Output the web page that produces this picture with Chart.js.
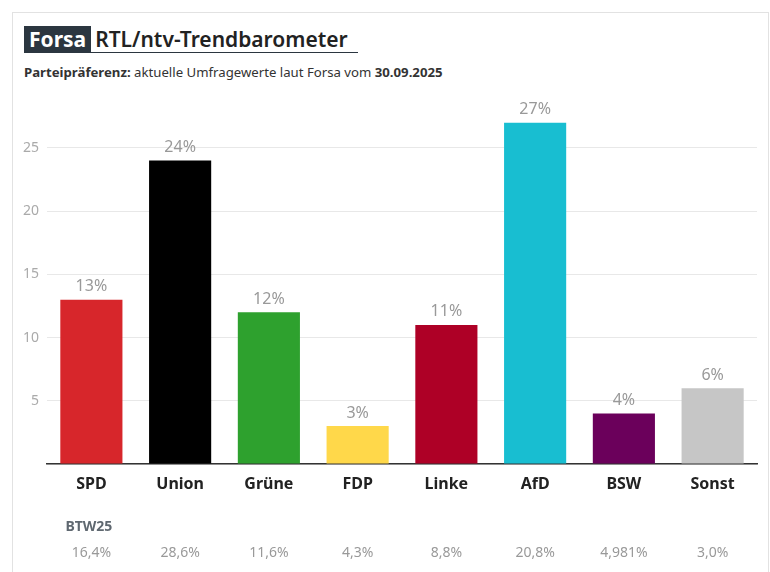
<!DOCTYPE html>
<html>
<head>
<meta charset="utf-8">
<script src="https://cdn.jsdelivr.net/npm/chart.js@4"></script>
<style>
  body { margin: 0; background: #fff; font-family: "Noto Sans", sans-serif; }
  #card { position: absolute; left: 12px; top: 12px; width: 755px; height: 600px; border: 1px solid #e2e2e2; }
  #title { position: absolute; left: 11px; top: 13px; height: 26px; border-bottom: 1.5px solid #2b3640; padding-right: 10px; white-space: nowrap; font-size: 21px; font-weight: 600; color: #222; line-height: 26px; }
  #title .tag { background: #2b3640; color: #fff; padding: 0 5px; margin-right: 4px; display: inline-block; font-weight: 700; }
  #sub { position: absolute; left: 11px; top: 50px; font-size: 13.2px; color: #333; white-space: nowrap; }
  #wrap { position: absolute; left: 0; top: 77px; width: 755px; height: 482px; }
</style>
</head>
<body>
<div id="card">
  <div id="title"><span class="tag">Forsa</span>RTL/ntv-Trendbarometer</div>
  <div id="sub"><b>Parteipräferenz:</b> aktuelle Umfragewerte laut Forsa vom <b>30.09.2025</b></div>
  <div id="wrap"><canvas id="umfrage"></canvas></div>
</div>
<script>
const parteien = ["SPD", "Union", "Grüne", "FDP", "Linke", "AfD", "BSW", "Sonst"];
const werte = [13, 24, 12, 3, 11, 27, 4, 6];
const btw25 = ["16,4%", "28,6%", "11,6%", "4,3%", "8,8%", "20,8%", "4,981%", "3,0%"];
const farben = ["#d7262b", "#000000", "#2ea12e", "#ffd84a", "#ae0026", "#18bed1", "#6b005b", "#c6c6c6"];

// Prozentwerte ueber den Balken und BTW25-Zeile unten
const labelPlugin = {
  id: "labels",
  afterDatasetsDraw(chart) {
    const ctx = chart.ctx;
    const meta = chart.getDatasetMeta(0);
    ctx.save();
    ctx.textAlign = "center";
    ctx.textBaseline = "bottom";
    ctx.fillStyle = "#999";
    ctx.font = "16px 'Noto Sans'";
    meta.data.forEach((bar, i) => {
      ctx.fillText(werte[i] + "%", bar.x, bar.y - 5);
    });
    const xs = chart.scales.x;
    const base = chart.chartArea.bottom;
    ctx.textAlign = "left";
    ctx.textBaseline = "middle";
    ctx.fillStyle = "#5f6870";
    ctx.font = "bold 14px 'Noto Sans'";
    ctx.fillText("BTW25", xs.getPixelForValue(0) - 26, base + 63);
    ctx.textAlign = "center";
    ctx.fillStyle = "#999";
    ctx.font = "14px 'Noto Sans'";
    btw25.forEach((t, i) => {
      ctx.fillText(t, xs.getPixelForValue(i), base + 89);
    });
    ctx.restore();
  }
};

new Chart("umfrage", {
  type: "bar",
  data: {
    labels: parteien,
    datasets: [{ data: werte, backgroundColor: farben, barPercentage: 0.7, categoryPercentage: 1 }]
  },
  plugins: [labelPlugin],
  options: {
    responsive: true,
    maintainAspectRatio: false,
    animation: false,
    layout: { padding: { top: 20, bottom: 68, left: 0, right: 11 } },
    plugins: { legend: { display: false }, tooltip: { enabled: false } },
    scales: {
      x: {
        grid: { display: false, drawTicks: false },
        border: { color: "#333", width: 1.5 },
        ticks: { padding: 11, color: "#222", font: { family: "Noto Sans", size: 16, weight: "bold" } },
        afterFit(s) { s.height = 40; }
      },
      y: {
        min: 0,
        max: 28,
        border: { display: false },
        grid: { color: "#e8e8e8", drawTicks: false },
        ticks: {
          stepSize: 5,
          padding: 8,
          color: "#aaa",
          font: { family: "Noto Sans", size: 14 },
          callback: v => (v === 0 ? "" : v)
        },
        afterBuildTicks(s) { s.ticks = s.ticks.filter(t => t.value % 5 === 0); },
        afterFit(s) { s.width = 34; }
      }
    }
  }
});
</script>
</body>
</html>
